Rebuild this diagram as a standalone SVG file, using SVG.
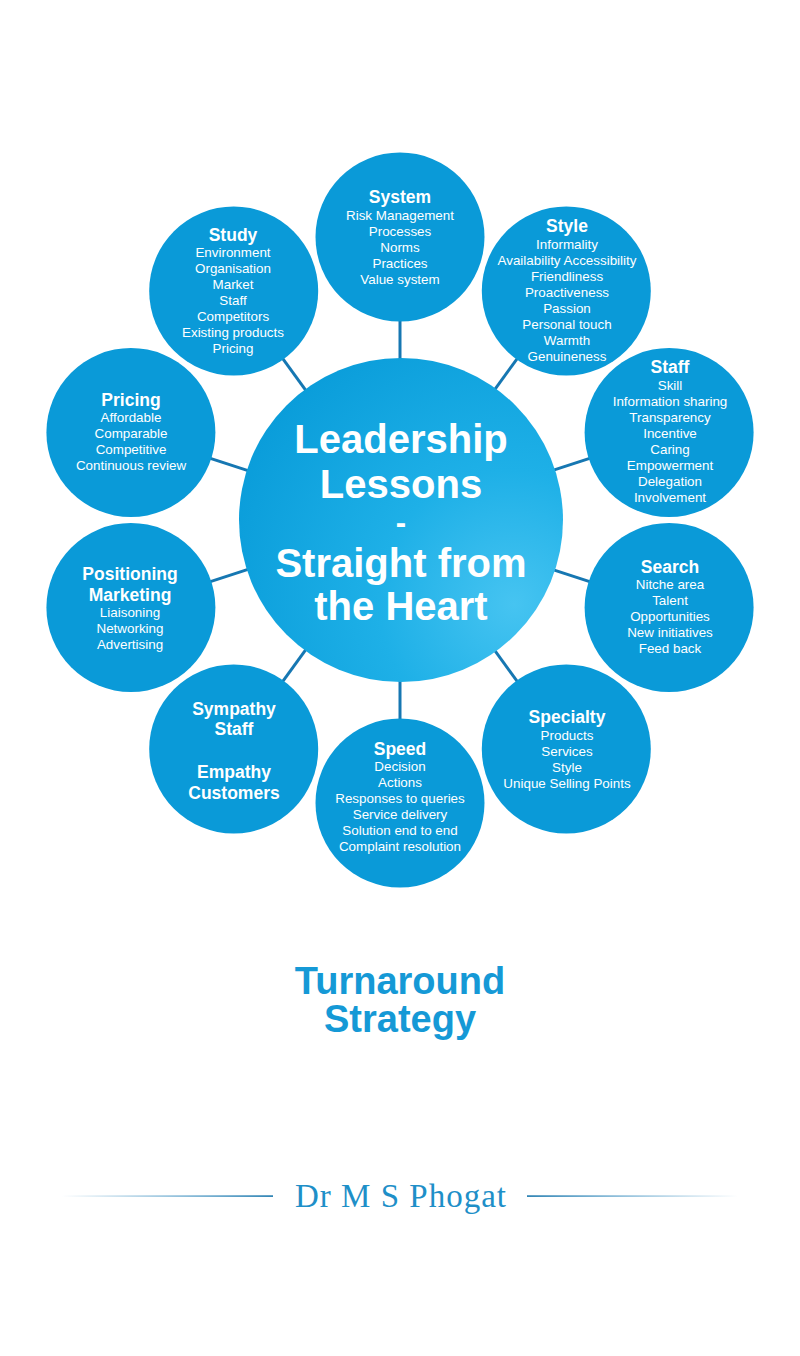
<svg xmlns="http://www.w3.org/2000/svg" width="800" height="1356" viewBox="0 0 800 1356">
<defs>
<radialGradient id="hub" cx="0.82" cy="0.74" r="0.9" fx="0.85" fy="0.76">
<stop offset="0" stop-color="#46c4f1"/>
<stop offset="0.45" stop-color="#1eb0e7"/>
<stop offset="1" stop-color="#0a9dda"/>
</radialGradient>
<linearGradient id="lineL" x1="0" y1="0" x2="1" y2="0">
<stop offset="0" stop-color="#3b8fc0" stop-opacity="0"/>
<stop offset="0.5" stop-color="#3b8fc0" stop-opacity="0.55"/>
<stop offset="1" stop-color="#1c78ad"/>
</linearGradient>
<linearGradient id="lineR" x1="0" y1="0" x2="1" y2="0">
<stop offset="0" stop-color="#1c78ad"/>
<stop offset="0.5" stop-color="#3b8fc0" stop-opacity="0.55"/>
<stop offset="1" stop-color="#3b8fc0" stop-opacity="0"/>
</linearGradient>
</defs>
<style>
.node{fill:#0a9ad8}
.t{font-family:"Liberation Sans",Arial,sans-serif;font-size:17.5px;font-weight:bold;fill:#ffffff;text-anchor:middle}
.i{font-family:"Liberation Sans",Arial,sans-serif;font-size:13.4px;fill:#ffffff;text-anchor:middle}
.hub{font-family:"Liberation Sans",Arial,sans-serif;font-size:40px;font-weight:bold;fill:#ffffff;text-anchor:middle}
.conn line{stroke:#1677b2;stroke-width:3}
</style>
<rect width="800" height="1356" fill="#ffffff"/>
<g id="connectors" class="conn">
<line x1="400" y1="365" x2="400" y2="315"/>
<line x1="491.1" y1="394.6" x2="520.5" y2="354.1"/>
<line x1="547.4" y1="472.1" x2="595.0" y2="456.6"/>
<line x1="547.4" y1="567.9" x2="595.0" y2="583.4"/>
<line x1="491.1" y1="645.4" x2="520.5" y2="685.9"/>
<line x1="400" y1="675" x2="400" y2="725"/>
<line x1="308.9" y1="645.4" x2="279.5" y2="685.9"/>
<line x1="252.6" y1="567.9" x2="205.0" y2="583.4"/>
<line x1="252.6" y1="472.1" x2="205.0" y2="456.6"/>
<line x1="308.9" y1="394.6" x2="279.5" y2="354.1"/>
</g>
<g id="hub-node">
<circle cx="401" cy="520" r="162" fill="url(#hub)"/>
<text class="hub" x="401" y="453">Leadership</text>
<text class="hub" x="401" y="498">Lessons</text>
<text class="hub" x="401" y="533" style="font-size:31px">-</text>
<text class="hub" x="401" y="577">Straight from</text>
<text class="hub" x="401" y="620">the Heart</text>
</g>
<g id="system">
<circle class="node" cx="400" cy="237" r="84.5"/>
<text class="t" x="400" y="203">System</text>
<text class="i" x="400" y="220">Risk Management</text>
<text class="i" x="400" y="236">Processes</text>
<text class="i" x="400" y="252">Norms</text>
<text class="i" x="400" y="268">Practices</text>
<text class="i" x="400" y="284">Value system</text>
</g>
<g id="style">
<circle class="node" cx="566.3" cy="291" r="84.5"/>
<text class="t" x="567" y="232">Style</text>
<text class="i" x="567" y="249">Informality</text>
<text class="i" x="567" y="265">Availability Accessibility</text>
<text class="i" x="567" y="281">Friendliness</text>
<text class="i" x="567" y="297">Proactiveness</text>
<text class="i" x="567" y="313">Passion</text>
<text class="i" x="567" y="329">Personal touch</text>
<text class="i" x="567" y="345">Warmth</text>
<text class="i" x="567" y="361">Genuineness</text>
</g>
<g id="staff">
<circle class="node" cx="669.1" cy="432.5" r="84.5"/>
<text class="t" x="670" y="373">Staff</text>
<text class="i" x="670" y="390">Skill</text>
<text class="i" x="670" y="406">Information sharing</text>
<text class="i" x="670" y="422">Transparency</text>
<text class="i" x="670" y="438">Incentive</text>
<text class="i" x="670" y="454">Caring</text>
<text class="i" x="670" y="470">Empowerment</text>
<text class="i" x="670" y="486">Delegation</text>
<text class="i" x="670" y="502">Involvement</text>
</g>
<g id="search">
<circle class="node" cx="669.1" cy="607.5" r="84.5"/>
<text class="t" x="670" y="573">Search</text>
<text class="i" x="670" y="589">Nitche area</text>
<text class="i" x="670" y="605">Talent</text>
<text class="i" x="670" y="621">Opportunities</text>
<text class="i" x="670" y="637">New initiatives</text>
<text class="i" x="670" y="653">Feed back</text>
</g>
<g id="specialty">
<circle class="node" cx="566.3" cy="749" r="84.5"/>
<text class="t" x="567" y="723">Specialty</text>
<text class="i" x="567" y="740">Products</text>
<text class="i" x="567" y="756">Services</text>
<text class="i" x="567" y="772">Style</text>
<text class="i" x="567" y="788">Unique Selling Points</text>
</g>
<g id="speed">
<circle class="node" cx="400" cy="803" r="84.5"/>
<text class="t" x="400" y="755">Speed</text>
<text class="i" x="400" y="771">Decision</text>
<text class="i" x="400" y="787">Actions</text>
<text class="i" x="400" y="803">Responses to queries</text>
<text class="i" x="400" y="819">Service delivery</text>
<text class="i" x="400" y="835">Solution end to end</text>
<text class="i" x="400" y="851">Complaint resolution</text>
</g>
<g id="sympathy">
<circle class="node" cx="233.7" cy="749" r="84.5"/>
<text class="t" x="234" y="715">Sympathy</text>
<text class="t" x="234" y="735">Staff</text>
<text class="t" x="234" y="778">Empathy</text>
<text class="t" x="234" y="799">Customers</text>
</g>
<g id="positioning">
<circle class="node" cx="130.9" cy="607.5" r="84.5"/>
<text class="t" x="130" y="580">Positioning</text>
<text class="t" x="130" y="601">Marketing</text>
<text class="i" x="130" y="617">Liaisoning</text>
<text class="i" x="130" y="633">Networking</text>
<text class="i" x="130" y="649">Advertising</text>
</g>
<g id="pricing">
<circle class="node" cx="130.9" cy="432.5" r="84.5"/>
<text class="t" x="131" y="406">Pricing</text>
<text class="i" x="131" y="422">Affordable</text>
<text class="i" x="131" y="438">Comparable</text>
<text class="i" x="131" y="454">Competitive</text>
<text class="i" x="131" y="470">Continuous review</text>
</g>
<g id="study">
<circle class="node" cx="233.7" cy="291" r="84.5"/>
<text class="t" x="233" y="241">Study</text>
<text class="i" x="233" y="257">Environment</text>
<text class="i" x="233" y="273">Organisation</text>
<text class="i" x="233" y="289">Market</text>
<text class="i" x="233" y="305">Staff</text>
<text class="i" x="233" y="321">Competitors</text>
<text class="i" x="233" y="337">Existing products</text>
<text class="i" x="233" y="353">Pricing</text>
</g>
<g id="title">
<text x="400" y="994" font-family="'Liberation Sans',Arial,sans-serif" font-size="38" font-weight="bold" fill="#1599d6" text-anchor="middle">Turnaround</text>
<text x="400" y="1032" font-family="'Liberation Sans',Arial,sans-serif" font-size="38" font-weight="bold" fill="#1599d6" text-anchor="middle">Strategy</text>
</g>
<g id="author">
<rect x="62" y="1195.3" width="211" height="1.6" fill="url(#lineL)"/>
<rect x="527" y="1195.3" width="211" height="1.6" fill="url(#lineR)"/>
<text x="401" y="1207" font-family="'Liberation Serif','Times New Roman',serif" font-size="33" letter-spacing="1" fill="#1e8fc8" text-anchor="middle">Dr M S Phogat</text>
</g>
</svg>
